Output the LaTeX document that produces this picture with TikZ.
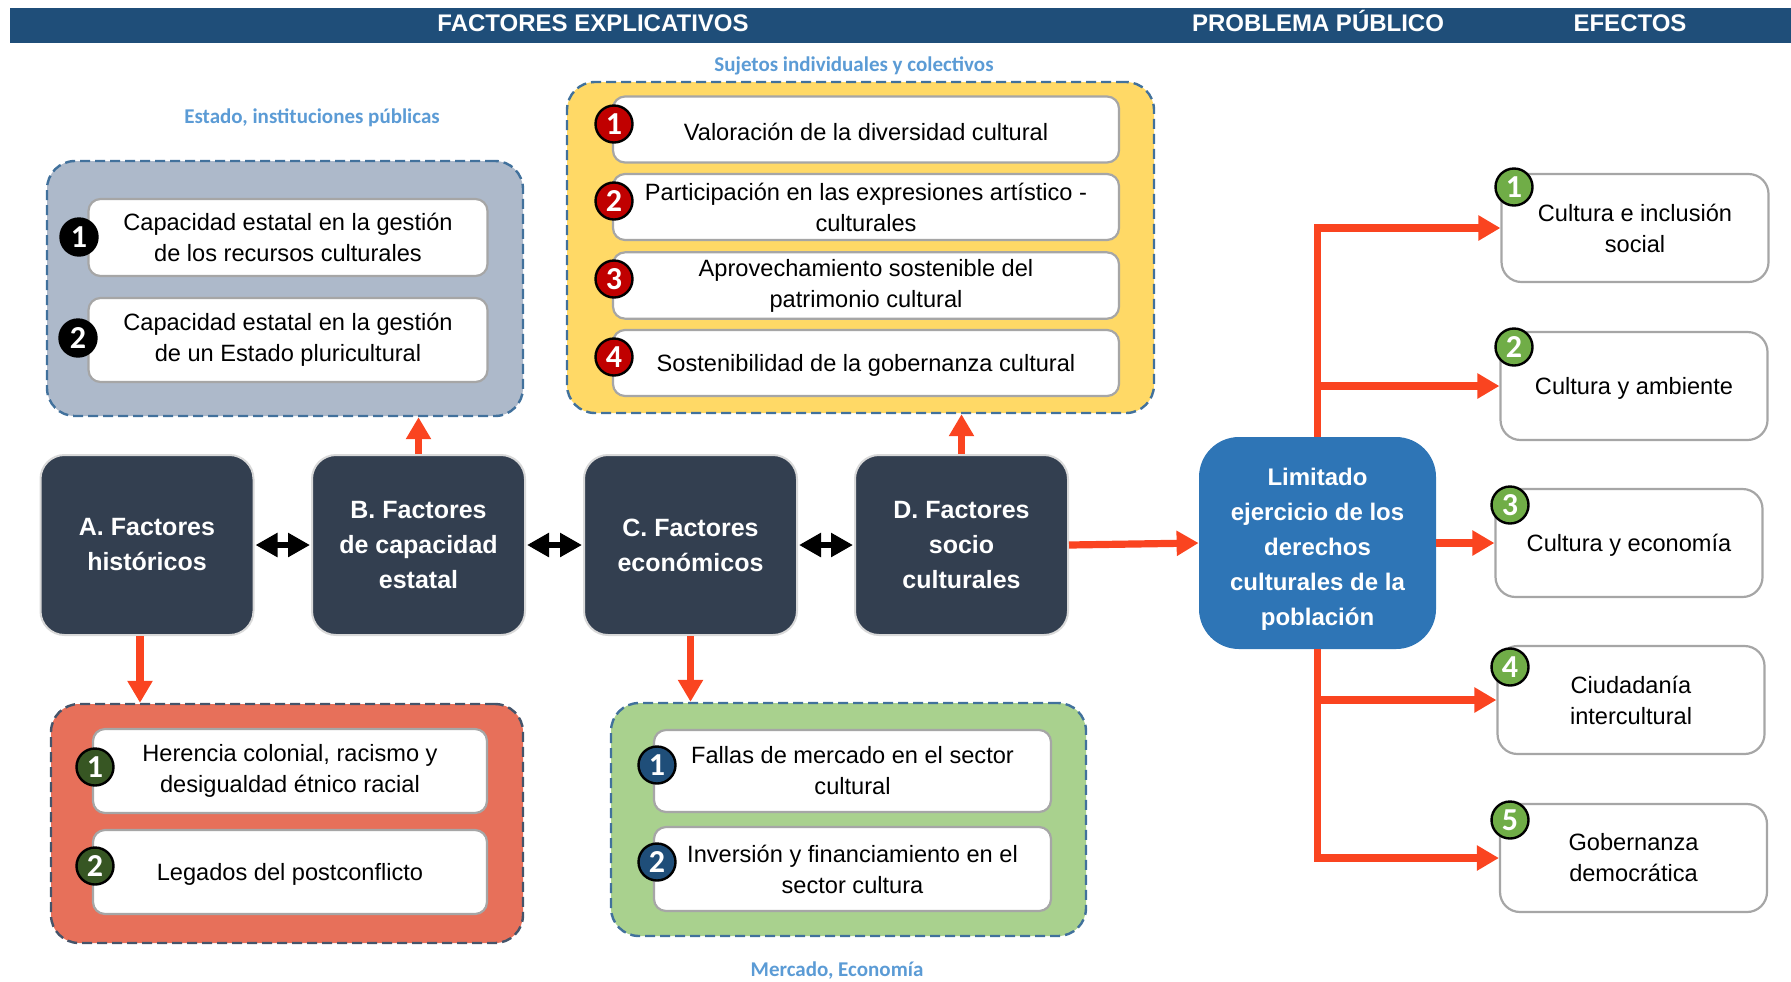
\documentclass[tikz,border=0pt]{standalone}
\usepackage{fontspec}
\setmainfont{Liberation Sans}
\newfontfamily\calibfont{Carlito}
\usetikzlibrary{arrows.meta}

\definecolor{cabecera}{HTML}{1F4E79}
\definecolor{bordegrupo}{HTML}{41719C}
\definecolor{bordeoscuro}{HTML}{44546A}
\definecolor{grisgrupo}{HTML}{ADB9CA}
\definecolor{amarillo}{HTML}{FFD966}
\definecolor{salmon}{HTML}{E7705A}
\definecolor{verdeclaro}{HTML}{A9D18E}
\definecolor{oscuro}{HTML}{333F50}
\definecolor{azulprob}{HTML}{2E75B6}
\definecolor{naranja}{HTML}{FA4420}
\definecolor{celeste}{HTML}{5B9BD5}
\definecolor{grisborde}{HTML}{A6A6A6}
\definecolor{rojonum}{HTML}{C00000}
\definecolor{verdenum}{HTML}{375623}
\definecolor{azulnum}{HTML}{1F4E79}
\definecolor{verdeefe}{HTML}{70AD47}

\begin{document}
\begin{tikzpicture}[x=0.5pt,y=-0.5pt,
  titulo/.style={anchor=base, text=white, font=\bfseries\fontsize{12}{14}\selectfont},
  etiqueta/.style={text=celeste, font=\calibfont\bfseries\fontsize{10.5}{12}\selectfont},
  grupo/.style={draw=bordegrupo, line width=1.2pt, dash pattern=on 5pt off 2.5pt, rounded corners=14pt},
  caja/.style={draw=grisborde, fill=white, line width=1.1pt, rounded corners=6pt, align=center,
    font=\fontsize{11.8}{15.5}\selectfont, execute at begin node={\rule{0pt}{11pt}}},
  factor/.style={draw=black!15, fill=oscuro, line width=1pt, rounded corners=12pt,
    minimum width=106.5pt, minimum height=90pt, text=white, align=center,
    font=\bfseries\fontsize{12.5}{17.5}\selectfont},
  efecto/.style={draw=grisborde, fill=white, line width=1.1pt, rounded corners=10pt,
    minimum width=133.5pt, minimum height=54pt, align=center, font=\fontsize{11.8}{15.5}\selectfont,
    execute at begin node={\rule{0pt}{11pt}}},
  num/.style={circle, draw=black, line width=1.2pt, minimum size=18.5pt, inner sep=0pt,
    text=white, font=\calibfont\bfseries\fontsize{16}{16}\selectfont},
  flecha/.style={naranja, line width=3.6pt, -{Triangle[width=12pt,length=11pt]}},
  doble/.style={black, line width=3.2pt, shorten <=0.5pt, shorten >=0.5pt,
    {Triangle[width=11.5pt,length=11pt]}-{Triangle[width=11.5pt,length=11pt]}}]
\useasboundingbox (0,0) rectangle (1791,981);

% Header
\fill[cabecera] (10,8) rectangle (1791,43);
\node[titulo] (tfactores) at (593,31) {FACTORES EXPLICATIVOS};
\node[titulo] (tproblema) at (1318,31) {PROBLEMA PÚBLICO};
\node[titulo] (tefectos) at (1630,31) {EFECTOS};

% Group labels
\node[etiqueta] (lsujetos) at (854,65.5) {Sujetos individuales y colectivos};
\node[etiqueta] (lestado) at (312,117.5) {Estado, instituciones públicas};
\node[etiqueta] (lmercado) at (837,971) {Mercado, Economía};

% Groups
\node[grupo, fill=grisgrupo, minimum width=238pt, minimum height=127.5pt] (estado) at (285,288.5) {};
\node[grupo, fill=amarillo, minimum width=293.5pt, minimum height=165.5pt] (sujetos) at (860.5,247.5) {};
\node[grupo, fill=salmon, draw=bordeoscuro, minimum width=236pt, minimum height=119.5pt] (historia) at (287,823.5) {};
\node[grupo, fill=verdeclaro, minimum width=237.5pt, minimum height=116.5pt] (mercado) at (848.5,819.5) {};

% Estado
\node[caja, minimum width=199.5pt, minimum height=38.5pt] (es1) at (288,237.5)
  {Capacidad estatal en la gestión\\de los recursos culturales};
\node[caja, minimum width=199.5pt, minimum height=42pt] (es2) at (288,340)
  {Capacidad estatal en la gestión\\de un Estado pluricultural};
\node[num, fill=black] (es1n) at (79,237) {1};
\node[num, fill=black] (es2n) at (78,338) {2};

% Sujetos
\node[caja, minimum width=253pt, minimum height=33pt] (su1) at (866,129.5)
  {Valoración de la diversidad cultural};
\node[caja, minimum width=253pt, minimum height=33pt] (su2) at (866,207)
  {Participación en las expresiones artístico -\\culturales};
\node[caja, minimum width=253pt, minimum height=33pt] (su3) at (866,285.5)
  {Aprovechamiento sostenible del\\patrimonio cultural};
\node[caja, minimum width=253pt, minimum height=33pt] (su4) at (866,363)
  {Sostenibilidad de la gobernanza cultural};
\node[num, fill=rojonum] (su1n) at (614,124) {1};
\node[num, fill=rojonum] (su2n) at (614,201) {2};
\node[num, fill=rojonum] (su3n) at (614,279) {3};
\node[num, fill=rojonum] (su4n) at (614,357) {4};

% Historia
\node[caja, minimum width=197pt, minimum height=42pt] (hi1) at (290,771)
  {Herencia colonial, racismo y\\desigualdad étnico racial};
\node[caja, minimum width=197pt, minimum height=42pt] (hi2) at (290,872)
  {Legados del postconflicto};
\node[num, fill=verdenum] (hi1n) at (95,767) {1};
\node[num, fill=verdenum] (hi2n) at (95,866) {2};

% Mercado
\node[caja, minimum width=198.5pt, minimum height=41pt] (me1) at (852.5,771)
  {Fallas de mercado en el sector\\cultural};
\node[caja, minimum width=198.5pt, minimum height=42pt] (me2) at (852.5,869)
  {Inversión y financiamiento en el\\sector cultura};
\node[num, fill=azulnum] (me1n) at (657,765) {1};
\node[num, fill=azulnum] (me2n) at (657,862) {2};

% Factores
\node[factor] (historicos) at (147,545) {A. Factores\\históricos};
\node[factor] (capacidad) at (418.5,545) {B. Factores\\de capacidad\\estatal};
\node[factor] (economicos) at (690.5,545) {C. Factores\\económicos};
\node[factor] (socio) at (961.5,545) {D. Factores\\socio\\culturales};

\draw[doble] (historicos) -- (capacidad);
\draw[doble] (capacidad) -- (economicos);
\draw[doble] (economicos) -- (socio);

\draw[flecha] (capacidad.north) -- (capacidad.north |- estado.south);
\draw[flecha] (socio.north) -- (socio.north |- sujetos.south);
\draw[flecha] ([xshift=-3.5pt]historicos.south) -- ([xshift=-3.5pt]historicos.south |- historia.north);
\draw[flecha] (economicos.south) -- (economicos.south |- mercado.north);

% Problema
\node[fill=azulprob, rounded corners=20pt, minimum width=118.5pt, minimum height=106pt,
  text=white, align=center, font=\bfseries\fontsize{12}{17.5}\selectfont] (problema) at (1317.5,543)
  {\rule{0pt}{14.5pt}Limitado\\ejercicio de los\\derechos\\culturales de la\\población};
\draw[flecha] (socio.east) -- (problema.west);

% Efectos
\node[efecto] (ef1) at (1635,228) {Cultura e inclusión\\social};
\node[efecto] (ef2) at (1634,386) {Cultura y ambiente};
\node[efecto] (ef3) at (1629,543) {Cultura y economía};
\node[efecto] (ef4) at (1631,700) {Ciudadanía\\intercultural};
\node[efecto] (ef5) at (1633.5,858) {Gobernanza\\democrática};

\draw[flecha] (problema.north) |- (ef1.west);
\draw[flecha] (problema.north) |- (ef2.west);
\draw[flecha] (problema.east) -- (ef3.west);
\draw[flecha] (problema.south) |- (ef4.west);
\draw[flecha] (problema.south) |- (ef5.west);

\node[num, fill=verdeefe] (ef1n) at (1514,187) {1};
\node[num, fill=verdeefe] (ef2n) at (1514,347) {2};
\node[num, fill=verdeefe] (ef3n) at (1510,505) {3};
\node[num, fill=verdeefe] (ef4n) at (1510,667) {4};
\node[num, fill=verdeefe] (ef5n) at (1510,820) {5};

\end{tikzpicture}
\end{document}
